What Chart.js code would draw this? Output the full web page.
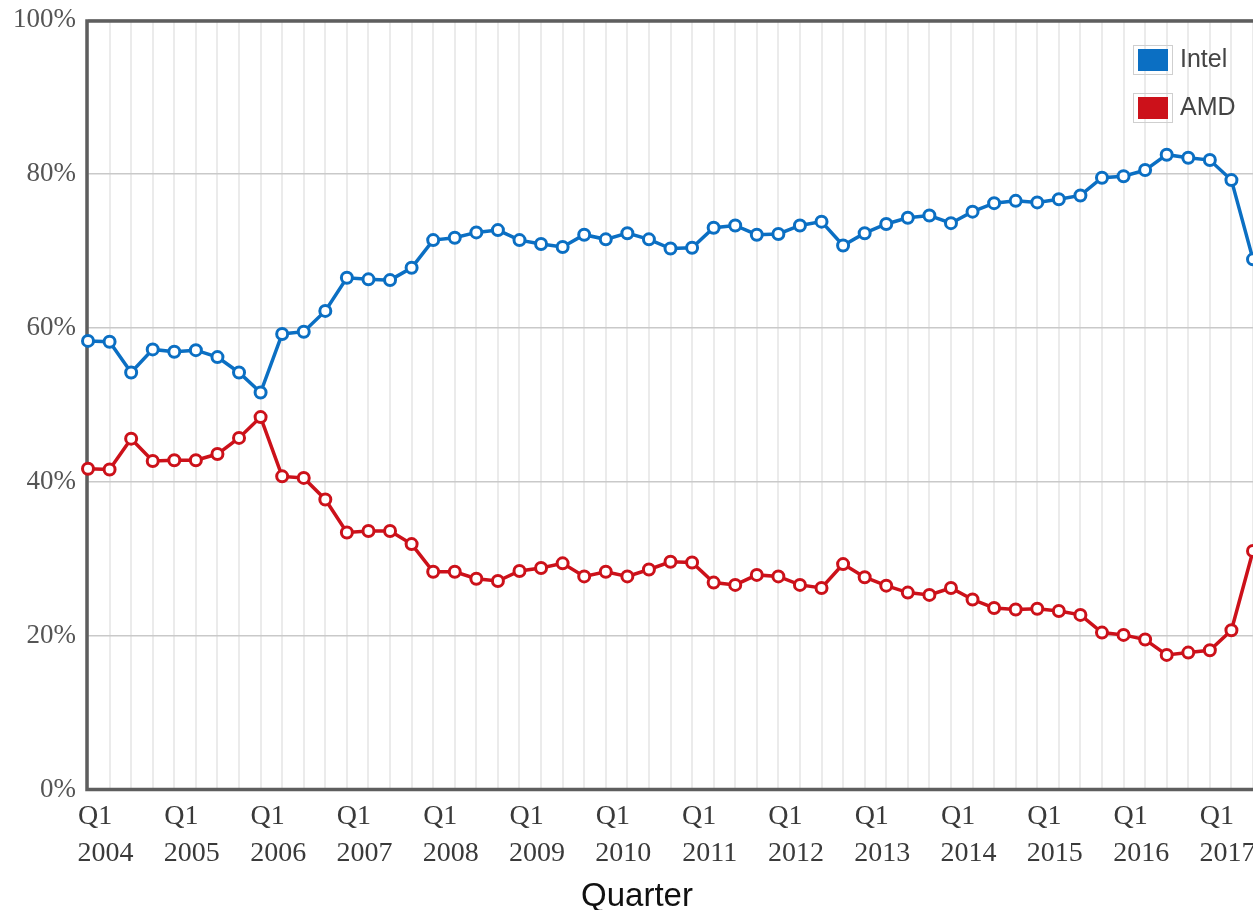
<!DOCTYPE html>
<html>
<head>
<meta charset="utf-8">
<script src="https://cdn.jsdelivr.net/npm/chart.js@4.4.1/dist/chart.umd.min.js"></script>
<style>
  html, body { margin: 0; padding: 0; background: #fff; overflow: hidden; }
  #wrap { width: 1253px; height: 910px; }
</style>
</head>
<body>
<div id="wrap"><canvas id="share" width="1253" height="910"></canvas></div>
<script>
// Quarters shown on the x axis (first point is Q4 2003)
const quarters = [
  'Q4 2003',
  'Q1 2004', 'Q2 2004', 'Q3 2004', 'Q4 2004',
  'Q1 2005', 'Q2 2005', 'Q3 2005', 'Q4 2005',
  'Q1 2006', 'Q2 2006', 'Q3 2006', 'Q4 2006',
  'Q1 2007', 'Q2 2007', 'Q3 2007', 'Q4 2007',
  'Q1 2008', 'Q2 2008', 'Q3 2008', 'Q4 2008',
  'Q1 2009', 'Q2 2009', 'Q3 2009', 'Q4 2009',
  'Q1 2010', 'Q2 2010', 'Q3 2010', 'Q4 2010',
  'Q1 2011', 'Q2 2011', 'Q3 2011', 'Q4 2011',
  'Q1 2012', 'Q2 2012', 'Q3 2012', 'Q4 2012',
  'Q1 2013', 'Q2 2013', 'Q3 2013', 'Q4 2013',
  'Q1 2014', 'Q2 2014', 'Q3 2014', 'Q4 2014',
  'Q1 2015', 'Q2 2015', 'Q3 2015', 'Q4 2015',
  'Q1 2016', 'Q2 2016', 'Q3 2016', 'Q4 2016',
  'Q1 2017', 'Q2 2017'
];

const intelShare = [
  58.3,
  58.2, 54.2, 57.2, 56.9,
  57.1, 56.2, 54.2, 51.6,
  59.2, 59.5, 62.2, 66.5,
  66.3, 66.2, 67.8, 71.4,
  71.7, 72.4, 72.7, 71.4,
  70.9, 70.5, 72.1, 71.5,
  72.3, 71.5, 70.3, 70.4,
  73.0, 73.3, 72.1, 72.2,
  73.3, 73.8, 70.7, 72.3,
  73.5, 74.3, 74.6, 73.6,
  75.1, 76.2, 76.5, 76.3,
  76.7, 77.2, 79.5, 79.7,
  80.5, 82.5, 82.1, 81.8,
  79.2, 68.9
];

const amdShare = [
  41.7,
  41.6, 45.6, 42.7, 42.8,
  42.8, 43.6, 45.7, 48.4,
  40.7, 40.5, 37.7, 33.4,
  33.6, 33.6, 31.9, 28.3,
  28.3, 27.4, 27.1, 28.4,
  28.8, 29.4, 27.7, 28.3,
  27.7, 28.6, 29.6, 29.5,
  26.9, 26.6, 27.9, 27.7,
  26.6, 26.2, 29.3, 27.6,
  26.5, 25.6, 25.3, 26.2,
  24.7, 23.6, 23.4, 23.5,
  23.2, 22.7, 20.4, 20.1,
  19.5, 17.5, 17.8, 18.1,
  20.7, 31.0
];

const yTicks = [0, 20, 40, 60, 80, 100];

const INTEL_BLUE = '#0b6fc3';
const AMD_RED = '#cc111a';

// dark frame on top, left and bottom of the plot
const plotFrame = {
  id: 'plotFrame',
  afterLayout(chart) {
    // let the y labels use the space left of the axis box (no clipping of "100%")
    chart.scales.y.left = 0;
  },
  beforeDatasetsDraw(chart) {
    const { ctx, chartArea: a } = chart;
    ctx.save();
    ctx.strokeStyle = '#5e5e5e';
    ctx.lineWidth = 3.5;
    ctx.beginPath();
    ctx.moveTo(a.right + 2, a.top + 1);
    ctx.lineTo(a.left - 1, a.top + 1);
    ctx.lineTo(a.left - 1, a.bottom);
    ctx.lineTo(a.right + 2, a.bottom);
    ctx.stroke();
    ctx.restore();
  }
};

// legend boxes inside the plot, top right
const boxLegend = {
  id: 'boxLegend',
  afterDatasetsDraw(chart) {
    const { ctx, chartArea: a } = chart;
    chart.data.datasets.forEach((ds, i) => {
      const x = a.right - 120;
      const y = a.top + 25 + i * 48;
      ctx.save();
      ctx.strokeStyle = '#cfcfcf';
      ctx.lineWidth = 1;
      ctx.strokeRect(x + 0.5, y + 0.5, 39, 29);
      ctx.fillStyle = ds.borderColor;
      ctx.fillRect(x + 5, y + 4, 30, 22);
      ctx.fillStyle = '#444';
      ctx.font = '25px "Liberation Sans", Arial, sans-serif';
      ctx.textBaseline = 'middle';
      ctx.fillText(ds.label, x + 47, y + 15);
      ctx.restore();
    });
  }
};

new Chart(document.getElementById('share'), {
  type: 'line',
  data: {
    labels: quarters,
    datasets: [
      {
        label: 'Intel',
        data: intelShare,
        borderColor: INTEL_BLUE,
        backgroundColor: INTEL_BLUE,
        borderWidth: 3.5,
        pointRadius: 5.5,
        pointBorderWidth: 3,
        pointBackgroundColor: '#fff',
        pointBorderColor: INTEL_BLUE,
        tension: 0,
        clip: false
      },
      {
        label: 'AMD',
        data: amdShare,
        borderColor: AMD_RED,
        backgroundColor: AMD_RED,
        borderWidth: 3.5,
        pointRadius: 5.5,
        pointBorderWidth: 3,
        pointBackgroundColor: '#fff',
        pointBorderColor: AMD_RED,
        tension: 0,
        clip: false
      }
    ]
  },
  options: {
    responsive: false,
    animation: false,
    devicePixelRatio: 1,
    layout: { autoPadding: false, padding: { left: 21, top: 20, right: 0, bottom: 0 } },
    plugins: {
      legend: { display: false },
      tooltip: { enabled: false },
      title: {
        display: true,
        position: 'bottom',
        text: 'Quarter',
        color: '#111',
        padding: 0,
        font: { family: '"Liberation Sans", Arial, sans-serif', size: 33, weight: 'normal', lineHeight: 0.8 }
      }
    },
    scales: {
      x: {
        offset: false,
        grid: { color: '#ebebeb', lineWidth: 2, drawTicks: false },
        border: { display: false },
        ticks: {
          autoSkip: false,
          maxRotation: 0,
          padding: 9,
          labelOffset: -4,
          color: '#3a3a3a',
          font: { family: '"Liberation Serif", "Times New Roman", serif', size: 28, lineHeight: 1.3 },
          callback: function (val, i) {
            const [q, year] = quarters[i].split(' ');
            // pad the quarter so both lines start at the same x
            return q === 'Q1' ? [q + '   ', year] : '';
          }
        },
        afterFit(scale) {
          scale.height = 94;
          scale.paddingLeft = 0;
          scale.paddingRight = 0;
        }
      },
      y: {
        min: 0,
        max: 100,
        afterBuildTicks(scale) { scale.ticks = yTicks.map(v => ({ value: v })); },
        grid: { color: '#c9c9c9', lineWidth: 1.5, drawTicks: false },
        border: { display: false },
        ticks: {
          padding: 12,
          color: '#555',
          font: { family: '"Liberation Serif", "Times New Roman", serif', size: 27 },
          callback: v => v + '%'
        },
        afterFit(scale) {
          scale.width = 67;
          scale.paddingTop = 0;
          scale.paddingBottom = 0;
        }
      }
    }
  },
  plugins: [plotFrame, boxLegend]
});
</script>
</body>
</html>
